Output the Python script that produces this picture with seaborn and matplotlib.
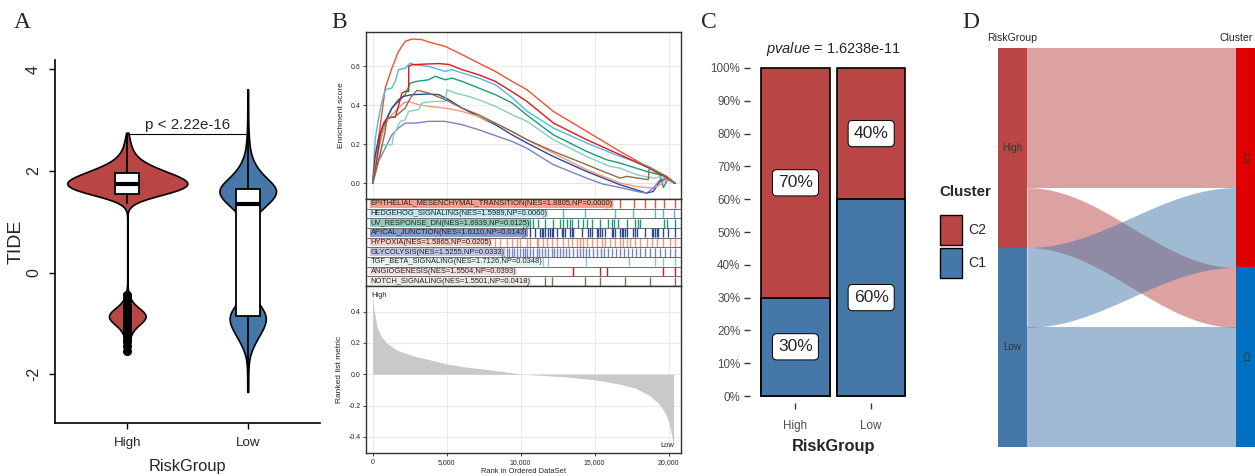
import numpy as np
import pandas as pd
import matplotlib
matplotlib.use("Agg")
import matplotlib.pyplot as plt
import seaborn as sns
from matplotlib import font_manager as fm
from matplotlib.patches import Rectangle
from matplotlib.colors import to_rgb

# ---------------- data ----------------
groups = ["High", "Low"]

high_vals = [-1.55, -1.45, -1.35, -1.25, -1.15, -1.05, -0.95, -0.85, -0.75, -0.65, -0.55, -0.45,
             1.35, 1.45, 1.55, 1.65, 1.75, 1.85, 1.95, 2.05, 2.15, 2.25, 2.35, 2.45, 2.55, 2.65, 2.75]
high_counts = [1, 1, 2, 3, 4, 8, 18, 24, 16, 5, 3, 2,
               2, 12, 40, 60, 66, 56, 42, 28, 16, 10, 6, 4, 3, 2, 1]
low_vals = [-2.35, -2.15, -1.95, -1.75, -1.55, -1.45, -1.35, -1.25, -1.15, -1.05, -0.95, -0.85,
            -0.75, -0.65, -0.55, -0.45, -0.35, -0.25, -0.15,
            0.95, 1.05, 1.15, 1.25, 1.35, 1.45, 1.55, 1.65, 1.75, 1.85, 1.95, 2.05, 2.15, 2.25,
            2.35, 2.5, 2.7, 2.9, 3.1, 3.35, 3.6]
low_counts = [1, 1, 1, 2, 4, 5, 8, 11, 14, 17, 19, 20,
              17, 12, 8, 5, 3, 2, 1,
              2, 4, 8, 14, 20, 26, 30, 34, 24, 18, 13, 9, 6, 4,
              3, 3, 2, 1, 1, 1, 1]
p_text = "p < 2.22e-16"
p_y = 2.72

# Panel B: GSEA running enrichment scores
set_names = ["EPITHELIAL_MESENCHYMAL_TRANSITION", "HEDGEHOG_SIGNALING", "UV_RESPONSE_DN",
             "APICAL_JUNCTION", "HYPOXIA", "GLYCOLYSIS", "TGF_BETA_SIGNALING",
             "ANGIOGENESIS", "NOTCH_SIGNALING"]
set_nes = [1.8805, 1.5989, 1.6939, 1.6110, 1.5865, 1.5255, 1.7126, 1.5504, 1.5501]
set_np = [0.0000, 0.0060, 0.0125, 0.0143, 0.0205, 0.0333, 0.0348, 0.0393, 0.0418]

es_rank = {
    "EPITHELIAL_MESENCHYMAL_TRANSITION": [0, 400, 850, 1300, 1750, 2200, 2660, 3330, 3780, 4910, 6040, 7160,
                                          8290, 9420, 10430, 12210, 14460, 16720, 18520, 19420, 20450],
    "HEDGEHOG_SIGNALING": [0, 180, 400, 630, 850, 1300, 1530, 1750, 2200, 2540, 2880, 3780, 4910, 5360,
                           6040, 7160, 8290, 9420, 10430, 12210, 14460, 16720, 18520, 19650, 20450],
    "UV_RESPONSE_DN": [0, 290, 630, 970, 1300, 1750, 2200, 2540, 2990, 3780, 4230, 4910, 5360, 6040, 7160,
                       8290, 9420, 10430, 12210, 14460, 15820, 16720, 18520, 19420, 19650, 19990, 20450],
    "APICAL_JUNCTION": [0, 180, 400, 630, 970, 1300, 1750, 2090, 2660, 3780, 4460, 5140, 6040, 7160, 8290,
                        9420, 10430, 12210, 14460, 15590, 16720, 17840, 18520, 18970, 19420, 19870, 20450],
    "HYPOXIA": [0, 290, 630, 970, 1300, 1750, 2090, 2430, 3110, 3780, 4910, 6040, 7160, 8290, 9420, 10430,
                12210, 14460, 15590, 16720, 17840, 18970, 19420, 19870, 20450],
    "GLYCOLYSIS": [0, 400, 850, 1300, 1750, 2200, 2880, 3780, 4910, 6040, 7160, 8290, 9420, 10430, 12210,
                   14460, 15590, 16720, 17840, 18520, 18970, 19420, 19870, 20450],
    "TGF_BETA_SIGNALING": [0, 400, 630, 1300, 1420, 1640, 1870, 2200, 2430, 3110, 3330, 4120, 4910, 5020,
                           5590, 6490, 7160, 8290, 9420, 10430, 12210, 14460, 16040, 16720, 17840, 18970,
                           19650, 20450],
    "ANGIOGENESIS": [0, 290, 520, 750, 970, 1530, 1750, 1980, 2200, 2430, 2440, 2660, 3330, 4460, 5140,
                     6040, 7160, 8290, 9420, 10430, 12210, 14460, 16720, 18630, 19650, 20450],
    "NOTCH_SIGNALING": [0, 520, 850, 970, 1530, 2200, 2540, 2990, 3330, 3780, 4910, 6040, 7160, 8290, 9420,
                        10430, 12210, 14460, 15590, 16720, 17170, 18630, 18700, 18970, 19870, 20450],
}
es_score = {
    "EPITHELIAL_MESENCHYMAL_TRANSITION": [0, 0.232, 0.489, 0.591, 0.677, 0.728, 0.740, 0.737, 0.725, 0.702,
                                          0.660, 0.617, 0.574, 0.523, 0.480, 0.369, 0.267, 0.164, 0.087,
                                          0.044, 0.0],
    "HEDGEHOG_SIGNALING": [0, 0.232, 0.335, 0.420, 0.480, 0.489, 0.523, 0.583, 0.591, 0.617, 0.608, 0.600,
                           0.574, 0.583, 0.566, 0.540, 0.506, 0.440, 0.370, 0.284, 0.207, 0.138, 0.092,
                           0.044, 0.0],
    "UV_RESPONSE_DN": [0, 0.147, 0.249, 0.335, 0.386, 0.420, 0.455, 0.514, 0.523, 0.531, 0.549, 0.531,
                       0.540, 0.523, 0.489, 0.455, 0.412, 0.350, 0.249, 0.164, 0.121, 0.104, 0.061, 0.044,
                       -0.021, 0.027, 0.0],
    "APICAL_JUNCTION": [0, 0.147, 0.232, 0.284, 0.335, 0.386, 0.429, 0.446, 0.455, 0.458, 0.455, 0.429,
                        0.386, 0.343, 0.301, 0.249, 0.207, 0.138, 0.061, 0.027, -0.007, -0.033, -0.050,
                        -0.041, 0.010, 0.027, 0.0],
    "HYPOXIA": [0, 0.147, 0.249, 0.318, 0.352, 0.386, 0.412, 0.420, 0.403, 0.395, 0.386, 0.369, 0.343,
                0.309, 0.266, 0.224, 0.155, 0.070, 0.036, 0.002, -0.016, -0.024, -0.007, 0.019, 0.0],
    "GLYCOLYSIS": [0, 0.113, 0.181, 0.249, 0.284, 0.309, 0.309, 0.318, 0.318, 0.301, 0.275, 0.245, 0.215,
                   0.180, 0.096, 0.027, -0.004, -0.021, -0.041, -0.050, -0.024, 0.019, 0.024, 0.0],
    "TGF_BETA_SIGNALING": [0, 0.113, 0.198, 0.198, 0.249, 0.284, 0.318, 0.326, 0.369, 0.378, 0.412, 0.420,
                           0.420, 0.480, 0.463, 0.446, 0.429, 0.395, 0.352, 0.318, 0.224, 0.138, 0.087,
                           0.078, 0.044, 0.027, 0.036, 0.0],
    "ANGIOGENESIS": [0, 0.12, 0.25, 0.31, 0.335, 0.34, 0.40, 0.463, 0.472, 0.472, 0.600, 0.608, 0.611,
                     0.614, 0.610, 0.583, 0.557, 0.523, 0.470, 0.420, 0.310, 0.224, 0.147, 0.080, 0.040,
                     0.0],
    "NOTCH_SIGNALING": [0, 0.155, 0.267, 0.335, 0.343, 0.386, 0.437, 0.477, 0.472, 0.463, 0.429, 0.386,
                        0.352, 0.309, 0.266, 0.224, 0.164, 0.096, 0.061, 0.027, 0.036, 0.019, 0.082, 0.070,
                        0.036, 0.0],
}
# gene hit positions visible to the right of each label
hits = {
    "EPITHELIAL_MESENCHYMAL_TRANSITION": [15770, 16200, 16720, 17660, 18410, 19080, 19690, 20430],
    "HEDGEHOG_SIGNALING": [11530, 12890, 14350, 16380, 17620, 19080, 19620, 20400],
    "UV_RESPONSE_DN": [10180, 10360, 10630, 10860, 11200, 11650, 12210, 12660, 12840, 13110, 13340, 13450,
                       13900, 14240, 14470, 14800, 15370, 15930, 16160, 16310, 16600, 17170, 17730, 17950,
                       18070, 19690, 19870, 20420],
    "APICAL_JUNCTION": [10070, 10180, 10300, 10630, 10970, 11310, 11420, 11530, 11650, 11870, 11990, 12100,
                        12210, 12440, 12770, 12890, 13000, 13340, 13450, 13560, 14130, 14580, 14690, 14800,
                        15140, 15250, 15360, 15480, 15700, 16150, 16270, 16380, 16720, 16830, 16940, 17050,
                        17170, 17620, 17730, 17840, 18410, 18860, 18970, 19080, 19190, 19310, 19650, 19980,
                        20430],
    "HYPOXIA": [8270, 8600, 9050, 9390, 9730, 9960, 10410, 10630, 11080, 11190, 11530, 11760, 12100, 12430,
                12880, 13220, 13450, 13790, 14010, 14240, 14460, 14800, 15140, 15480, 15700, 16040, 16380,
                16710, 16940, 17160, 17390, 17730, 18070, 18520, 18850, 19190, 19640, 20090, 20430],
    "GLYCOLYSIS": [8720, 8870, 9050, 9230, 9390, 9550, 9730, 9960, 10140, 10290, 10450, 10630, 10860, 11080,
                   11260, 11440, 11650, 11870, 12100, 12250, 12430, 12660, 12880, 13060, 13290, 13520, 13790,
                   14010, 14190, 14420, 14640, 14910, 15140, 15410, 15630, 15930, 16150, 16440, 16710, 16980,
                   17280, 17500, 17800, 18070, 18400, 18740, 19080, 19420, 19760, 20090, 20430],
    "TGF_BETA_SIGNALING": [11530, 11870, 14400, 17300, 19080, 19640, 20430],
    "ANGIOGENESIS": [13560, 15360, 15860, 19600, 20430],
    "NOTCH_SIGNALING": [10400, 11650, 12100, 14350, 15360, 17050, 18740, 20430],
}
# ranked list metric
metric_rank = [0, 20, 134, 291, 515, 963, 1635, 2755, 3875, 4995, 6115, 8355, 10147, 12835, 15075,
               16643, 17763, 18659, 19331, 19779, 20003, 20227, 20339]
metric_value = [0.50, 0.46, 0.39, 0.305, 0.251, 0.198, 0.155, 0.117, 0.092, 0.066, 0.049, 0.023, 0.0,
                -0.015, -0.036, -0.062, -0.089, -0.132, -0.185, -0.249, -0.302, -0.398, -0.462]

# Panel C / D: cluster membership counts per risk group
cluster_names = ["C2", "C1"]
counts_high = [175, 75]   # C2, C1
counts_low = [100, 150]   # C2, C1
pvalue_text = "1.6238e-11"

# ---------------- style ----------------
RED = "#BA4545"
BLUE = "#4577A9"
RED_NODE = "#DF0000"
BLUE_NODE = "#0070C0"
set_colors = ["#F0512E", "#50B9E2", "#1A9C78", "#2B4A92", "#F7977A", "#7683C0", "#85CFB9",
              "#E0161B", "#8B6B4D"]
set_tints = [0.55, 0.35, 0.5, 0.55, 0.5, 0.45, 0.22, 0.15, 0.15]
violin_widths = [1.0, 0.47]

sns.set_theme(style="white")
names = {f.name for f in fm.fontManager.ttflist}
if "Liberation Sans Narrow" in names:
    NARROW, NS = "Liberation Sans Narrow", 1.0
else:
    NARROW, NS = "Liberation Sans", 0.84
REG = "Liberation Sans"
plt.rcParams["font.family"] = [REG, "DejaVu Sans"]
plt.rcParams["mathtext.fontset"] = "custom"
plt.rcParams["mathtext.it"] = NARROW + ":italic"
plt.rcParams["mathtext.rm"] = NARROW


def blend(c, a):
    r = np.array(to_rgb(c))
    return tuple(1 - a * (1 - r))


W, H = 1255, 476
fig = plt.figure(figsize=(W / 100, H / 100), dpi=100)


def box(l, t, r, b):
    return [l / W, 1 - b / H, (r - l) / W, (b - t) / H]


# ---------------- Panel A ----------------
axA = fig.add_axes(box(55, 60, 320, 423))
dfA = pd.DataFrame({
    "RiskGroup": np.repeat(groups, [sum(high_counts), sum(low_counts)]),
    "TIDE": np.concatenate([np.repeat(high_vals, high_counts), np.repeat(low_vals, low_counts)]),
})
for g, col, wv in zip(groups, [RED, BLUE], violin_widths):
    sns.violinplot(data=dfA[dfA["RiskGroup"] == g], x="RiskGroup", y="TIDE", order=groups,
                   color=col, cut=0, inner=None, width=wv, linewidth=1.2, linecolor="black",
                   bw_adjust=0.35, density_norm="width", saturation=1, ax=axA)
sns.boxplot(data=dfA, x="RiskGroup", y="TIDE", order=groups, width=0.2, color="white",
            linecolor="black", linewidth=1.3, whis=2.0, saturation=1, showcaps=False,
            flierprops=dict(marker="o", markerfacecolor="black", markeredgecolor="black", markersize=5.5),
            medianprops=dict(linewidth=3.0, color="black"), ax=axA)
axA.plot([0, 1], [p_y, p_y], color="black", lw=0.8)
axA.text(0.5, p_y + 0.04, p_text, ha="center", va="bottom", fontsize=13 * NS, family=NARROW)
axA.set_xlim(-0.6, 1.6)
axA.set_ylim(-2.96, 4.18)
axA.set_yticks([-2, 0, 2, 4])
axA.set_yticklabels(["-2", "0", "2", "4"], rotation=90, va="center")
axA.tick_params(axis="y", left=True, length=4, width=1, color="black", labelsize=11.5, pad=6)
axA.tick_params(axis="x", bottom=True, length=4, width=1, color="black", pad=6)
for lab in axA.get_xticklabels():
    lab.set_fontsize(11.5 * NS)
    lab.set_family(NARROW)
axA.set_xlabel("RiskGroup", fontsize=14 * NS, family=NARROW, labelpad=7)
axA.set_ylabel("TIDE", fontsize=14, labelpad=1)
for s in ["top", "right"]:
    axA.spines[s].set_visible(False)
for s in ["left", "bottom"]:
    axA.spines[s].set_color("black")
    axA.spines[s].set_linewidth(1.2)

# ---------------- Panel B ----------------
xl = (-450, 20840)
axES = fig.add_axes(box(366, 32, 681, 199))
for name, col in zip(set_names, set_colors):
    sns.lineplot(x=es_rank[name], y=es_score[name], color=col, lw=1.0, sort=False, estimator=None, ax=axES)
axES.axhline(0, color="#B0B0B0", lw=0.7, ls=(0, (1, 1.5)), zorder=0)
axES.set_xlim(*xl)
axES.set_ylim(-0.08, 0.776)
axES.set_xticks([0, 5000, 10000, 15000, 20000])
axES.set_xticklabels([])
axES.set_yticks([0, 0.2, 0.4, 0.6])
axES.set_yticklabels(["0.0", "0.2", "0.4", "0.6"], fontsize=6 * NS, family=NARROW)
axES.tick_params(left=True, bottom=False, length=2, width=0.6, pad=2)
axES.grid(True, color="#E6E6E6", lw=0.6)
axES.set_axisbelow(True)
axES.set_ylabel("Enrichment score", fontsize=6, labelpad=4)

axG = fig.add_axes(box(366, 199, 681, 286))
axG.set_xlim(*xl)
axG.set_ylim(0, 9)
for i, (name, nes, npv, col, tint) in enumerate(zip(set_names, set_nes, set_np, set_colors, set_tints)):
    yb = 8 - i
    axG.vlines(hits[name], yb + 0.04, yb + 0.96, color=col, lw=1.0, zorder=2)
    axG.text(-130, yb + 0.5, f"{name}(NES={nes:.4f},NP={npv:.4f})", ha="left", va="center",
             fontsize=6.4 * NS, family=NARROW, color="#222222", zorder=4,
             bbox=dict(boxstyle="square,pad=0.04", fc=blend(col, tint), ec="none"))
for k in range(1, 9):
    axG.axhline(k, color="#555555", lw=0.6, zorder=3)
axG.set_xticks([])
axG.set_yticks([])

axR = fig.add_axes(box(366, 286, 681, 453))
axR.fill_between(metric_rank, metric_value, 0, color="#C9C9C9", lw=0, zorder=2)
axR.set_xlim(*xl)
axR.set_ylim(-0.503, 0.564)
axR.set_xticks([0, 5000, 10000, 15000, 20000])
axR.set_xticklabels(["0", "5,000", "10,000", "15,000", "20,000"], fontsize=6 * NS, family=NARROW)
axR.set_yticks([-0.4, -0.2, 0, 0.2, 0.4])
axR.set_yticklabels(["-0.4", "-0.2", "0.0", "0.2", "0.4"], fontsize=6 * NS, family=NARROW)
axR.tick_params(left=True, bottom=True, length=2, width=0.6, pad=2)
axR.grid(True, color="#E6E6E6", lw=0.6)
axR.set_axisbelow(True)
axR.set_ylabel("Ranked list metric", fontsize=6, labelpad=4)
axR.set_xlabel("Rank in Ordered DataSet", fontsize=6.4 * NS, family=NARROW, labelpad=2)
axR.text(-80, 0.505, "High", ha="left", va="center", fontsize=6.4 * NS, family=NARROW, color="#222222")
axR.text(20350, -0.455, "Low", ha="right", va="center", fontsize=6.4 * NS, family=NARROW, color="#222222")

for ax in (axES, axG, axR):
    for s in ax.spines.values():
        s.set_color("#333333")
        s.set_linewidth(1.0)

# ---------------- Panel C ----------------
axC = fig.add_axes(box(750, 61, 916.6, 403))
tot = [sum(counts_high), sum(counts_low)]
c2_frac = [counts_high[0] / tot[0], counts_low[0] / tot[1]]
c1_frac = [counts_high[1] / tot[0], counts_low[1] / tot[1]]
dfC = pd.DataFrame({"RiskGroup": groups, "C2": c2_frac, "C1": c1_frac})
dfC["stack"] = dfC["C2"] + dfC["C1"]
sns.barplot(data=dfC, x="RiskGroup", y="stack", color=RED, saturation=1, width=0.9,
            edgecolor="black", linewidth=1.2, ax=axC)
sns.barplot(data=dfC, x="RiskGroup", y="C1", color=BLUE, saturation=1, width=0.9,
            edgecolor="black", linewidth=1.2, ax=axC)
for i in range(2):
    for yv, txt in [(c1_frac[i] + c2_frac[i] / 2, c2_frac[i]), (c1_frac[i] / 2, c1_frac[i])]:
        axC.text(i, yv, f"{round(txt * 100)}%", ha="center", va="center", fontsize=15 * NS, family=NARROW,
                 bbox=dict(boxstyle="round,pad=0.32,rounding_size=0.25", fc="white", ec="black", lw=0.7))
axC.set_xlim(-0.6, 1.6)
axC.set_ylim(-0.0213, 1.0213)
axC.set_yticks(np.arange(0, 1.01, 0.1))
axC.set_yticklabels([f"{v}%" for v in range(0, 101, 10)])
axC.tick_params(axis="y", left=True, length=4, width=1, color="#333333", labelcolor="#4D4D4D", pad=3)
axC.tick_params(axis="x", bottom=True, length=4, width=1, color="#333333", labelcolor="#4D4D4D", pad=8)
for lab in axC.get_yticklabels() + axC.get_xticklabels():
    lab.set_fontsize(10 * NS)
    lab.set_family(NARROW)
for s in axC.spines.values():
    s.set_visible(False)
axC.set_xlabel("RiskGroup", fontsize=14 * NS, family=NARROW, fontweight="bold", labelpad=5)
axC.set_ylabel("")
axC.set_title(r"$\mathit{pvalue}$ = " + pvalue_text, fontsize=12.5 * NS, family=NARROW, pad=6)

# legend for Cluster (drawn as figure-level key boxes)
fig.text(939 / W, 1 - 192 / H, "Cluster", ha="left", va="center", fontsize=13 * NS, family=NARROW,
         fontweight="bold")
for k, (cn, col) in enumerate(zip(cluster_names, [RED, BLUE])):
    top = 215 + 33 * k
    fig.patches.append(Rectangle((940 / W, 1 - (top + 30) / H), 22 / W, 30 / H, transform=fig.transFigure,
                                 facecolor=col, edgecolor="black", lw=1.0))
    fig.text(968 / W, 1 - (top + 15) / H, cn, ha="left", va="center", fontsize=12 * NS, family=NARROW)

# ---------------- Panel D ----------------
axD = fig.add_axes(box(998, 48, 1265, 447))
axD.set_xlim(0, 1)
axD.set_ylim(0, 1)
axD.axis("off")
total = sum(counts_high) + sum(counts_low)
nw = 29 / 267
xr0 = 1 - nw
flows = [("High", "C2", counts_high[0]), ("High", "C1", counts_high[1]),
         ("Low", "C2", counts_low[0]), ("Low", "C1", counts_low[1])]
left_sizes = {"High": sum(counts_high), "Low": sum(counts_low)}
right_sizes = {"C2": counts_high[0] + counts_low[0], "C1": counts_high[1] + counts_low[1]}
left_top, y = {}, 1.0
for g in groups:
    left_top[g] = y
    y -= left_sizes[g] / total
right_top, y = {}, 1.0
for c in cluster_names:
    right_top[c] = y
    y -= right_sizes[c] / total
lcur = dict(left_top)
rcur = dict(right_top)
xs = np.linspace(nw, xr0, 200)
sm = (1 - np.cos(np.pi * (xs - nw) / (xr0 - nw))) / 2
src_col = {"High": RED, "Low": BLUE}
for src, tgt, v in flows:
    h = v / total
    l1, r1 = lcur[src], rcur[tgt]
    top = l1 + (r1 - l1) * sm
    axD.fill_between(xs, top - h, top, color=src_col[src], alpha=0.5, lw=0)
    lcur[src] -= h
    rcur[tgt] -= h
node_col_l = {"High": RED, "Low": BLUE}
node_col_r = {"C2": RED_NODE, "C1": BLUE_NODE}
for g in groups:
    t = left_top[g]
    b = t - left_sizes[g] / total
    axD.fill_between([0, nw], b, t, color=node_col_l[g], lw=0)
    axD.text(nw / 2, (t + b) / 2, g, ha="center", va="center", fontsize=8.5 * NS, family=NARROW,
             color="#333333")
for c in cluster_names:
    t = right_top[c]
    b = t - right_sizes[c] / total
    axD.fill_between([xr0, 1], b, t, color=node_col_r[c], lw=0)
    axD.text(xr0 + 0.035, (t + b) / 2, c, ha="center", va="center", rotation=-90, fontsize=8 * NS,
             family=NARROW, color="#333333")
axD.text(nw / 2, 1.025, "RiskGroup", ha="center", va="center", fontsize=9 * NS, family=NARROW,
         transform=axD.transAxes, clip_on=False)
fig.text(1253 / W, 1 - 38 / H, "Cluster", ha="right", va="center", fontsize=9 * NS, family=NARROW)

# ---------------- panel letters ----------------
for lx, lt in [(22, "A"), (339, "B"), (709, "C"), (971, "D")]:
    fig.text(lx / W, 1 - 23 / H, lt, ha="center", va="center", fontsize=17, family="Liberation Serif")

fig.savefig("out.png", dpi=100)
